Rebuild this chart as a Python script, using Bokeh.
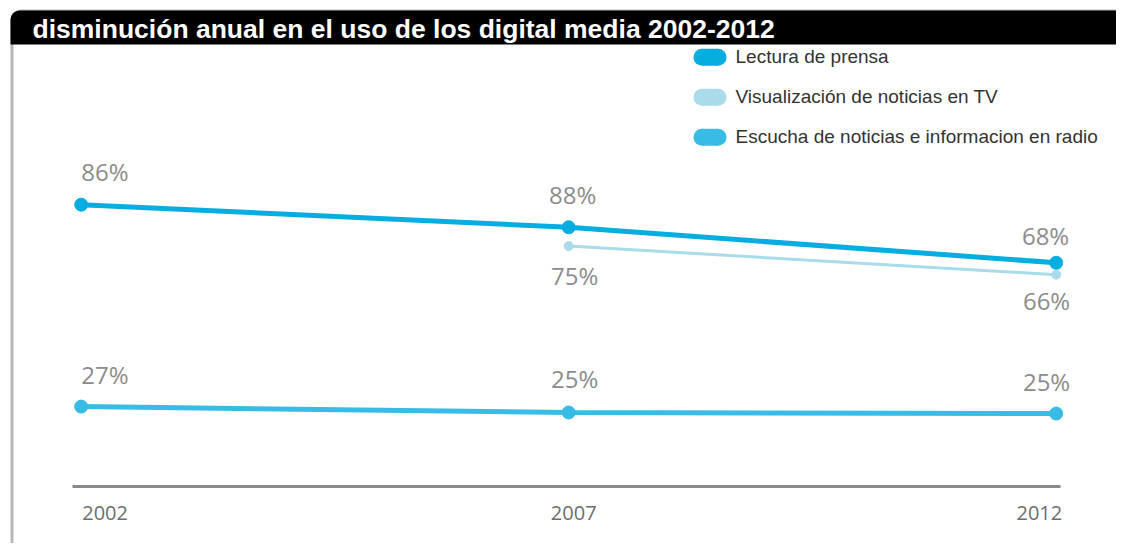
import math
from bokeh.plotting import figure
from bokeh.models import ColumnDataSource, Range1d, BoxAnnotation, Label, Legend, LegendItem
from bokeh.core.properties import value
from bokeh.embed import file_html
from bokeh.resources import INLINE

# ---------------- data ----------------
title_text = "disminución anual en el uso de los digital media 2002-2012"
years = [2002, 2007, 2012]
year_labels = ["2002", "2007", "2012"]

series_names = ["Lectura de prensa", "Visualización de noticias en TV",
                "Escucha de noticias e informacion en radio"]
# plotted positions
press_values = [84.7, 78.2, 68.0]
tv_values = [float("nan"), 72.8, 64.6]
radio_values = [26.7, 25.0, 24.7]
# printed labels
press_labels = ["86%", "88%", "68%"]
tv_labels = ["", "75%", "66%"]
radio_labels = ["27%", "25%", "25%"]

colors = ["#05ade0", "#a9dbea", "#38bce6"]

# ---------------- layout (pixels) ----------------
W, H = 1116, 543
X_A, X_B = 80.7, 1055.7          # pixel x of first / last year
Y_A_VAL, Y_A_PX = 25.0, 412.0     # value -> pixel y anchors
Y_B_VAL, Y_B_PX = 68.0, 262.3

kx = (X_B - X_A) / (years[-1] - years[0])
ky = (Y_A_PX - Y_B_PX) / (Y_B_VAL - Y_A_VAL)
x_start = years[0] - X_A / kx
x_end = x_start + W / kx
y_end = Y_A_VAL + Y_A_PX / ky
y_start = y_end - H / ky


def sx(px):
    return x_start + px / kx


def sy(py):
    return y_end - py / ky


p = figure(width=W, height=H, output_backend="svg", toolbar_location=None,
           x_range=Range1d(x_start, x_end), y_range=Range1d(y_start, y_end),
           min_border=0, min_border_left=0, min_border_right=0,
           min_border_top=0, min_border_bottom=0)
p.axis.visible = False
p.grid.visible = False
p.outline_line_color = None
p.background_fill_color = "white"
p.border_fill_color = "white"

# frame border with rounded corners
p.add_layout(BoxAnnotation(left=sx(11.5), right=sx(1140), top=sy(10.5), bottom=sy(558),
                           fill_color=None, line_color="#111111", line_width=3,
                           border_radius=9))
# header bar
p.add_layout(BoxAnnotation(left=sx(10), right=sx(1140), top=sy(10), bottom=sy(44),
                           fill_color="black", fill_alpha=1.0, line_color=None,
                           border_radius=(9, 0, 0, 0)))
p.add_layout(Label(x=sx(32), y=sy(28), text=title_text, text_color="white",
                   text_font="Liberation Sans", text_font_style="bold",
                   text_font_size="26.5px", text_baseline="middle"))

# baseline
p.line(x=[sx(72), sx(1060)], y=[sy(486), sy(486)], line_color="#8a8a8a", line_width=3)

# year labels
ysrc = ColumnDataSource(dict(x=years, y=[sy(512)] * 3, t=year_labels,
                             a=["left", "center", "right"], xo=[1, 5, 6]))
p.text(x="x", y="y", text="t", source=ysrc, text_align="a", x_offset="xo",
       text_baseline="middle", text_font=value("Open Sans"), text_font_size="20px",
       text_color="#6e6e6e")

# series lines
specs = [
    (press_values, press_labels, colors[0], 5, 13, [-33, -33, -27], ["left", "center", "right"], [0, 4, 13]),
    (tv_values, tv_labels, colors[1], 3, 9, [0, 29, 26], ["left", "center", "right"], [0, 6, 14]),
    (radio_values, radio_labels, colors[2], 5, 13, [-32, -34, -32], ["left", "center", "right"], [0, 6, 14]),
]
for vals, labs, col, lw, ms, yo, al, xo in specs:
    xs = [x for x, v in zip(years, vals) if not math.isnan(v)]
    vs = [v for v in vals if not math.isnan(v)]
    p.line(x=xs, y=vs, line_color=col, line_width=lw)
    p.scatter(x=xs, y=vs, size=ms, fill_color=col, line_color=col)
    idx = [i for i, v in enumerate(vals) if not math.isnan(v)]
    src = ColumnDataSource(dict(x=xs, y=vs, t=[labs[i] for i in idx],
                                a=[al[i] for i in idx], xo=[xo[i] for i in idx],
                                yo=[yo[i] for i in idx]))
    p.text(x="x", y="y", text="t", source=src, text_align="a", x_offset="xo",
           y_offset="yo", text_baseline="middle", text_font=value("Open Sans"),
           text_font_size="24px", text_color="#8c8c8c")

# legend
leg_top_px = 45.7
gh, sp = 22, 18
leg_h = 3 * gh + 2 * sp
leg_left = 701.5
gw = 16
pill_h = 17
items = []
nan = float("nan")
for i, (name, col) in enumerate(zip(series_names, colors)):
    cy = sy(leg_top_px + gh / 2 + i * (gh + sp))
    # pill-shaped swatch: rectangle + two round ends
    p.rect(x=[sx(leg_left + gw / 2)], y=[cy], width=gw, height=pill_h,
           width_units="screen", height_units="screen", fill_color=col, line_color=None)
    p.scatter(x=[sx(leg_left), sx(leg_left + gw)], y=[cy, cy], size=pill_h,
              fill_color=col, line_color=None)
    r = p.line(x=[nan], y=[nan], line_color=col, line_alpha=0, line_width=1)
    items.append(LegendItem(label=name, renderers=[r]))

legend = Legend(items=items, location=(leg_left, H - leg_top_px - leg_h),
                glyph_width=gw, glyph_height=gh, label_height=gh, spacing=sp,
                padding=0, margin=0, label_standoff=18,
                border_line_color=None, background_fill_alpha=0,
                label_text_font="Liberation Sans", label_text_font_size="19px",
                label_text_color="#333333")
p.add_layout(legend, "center")

open("out.html", "w").write(file_html(p, INLINE))
